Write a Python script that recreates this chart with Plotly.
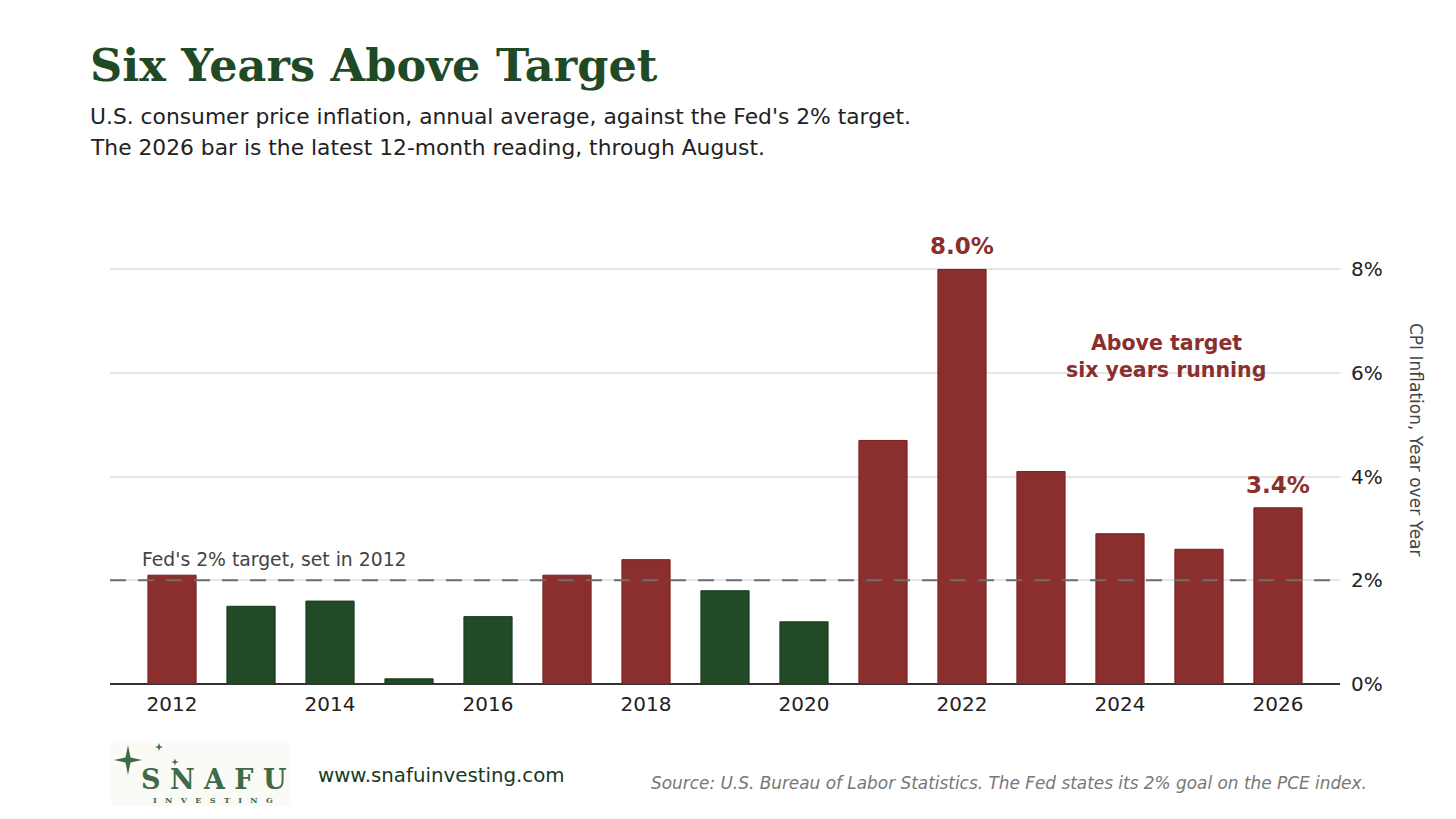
import plotly.graph_objects as go

years = list(range(2012, 2027))
inflation = [2.1, 1.5, 1.6, 0.1, 1.3, 2.1, 2.4, 1.8, 1.2, 4.7, 8.0, 4.1, 2.9, 2.6, 3.4]
target = 2.0
y_ticks = [0, 2, 4, 6, 8]
y_tick_labels = ["0%", "2%", "4%", "6%", "8%"]
x_ticks = [2012, 2014, 2016, 2018, 2020, 2022, 2024, 2026]
labelled_years = [2022, 2026]

RED = "#8b2e2e"
RED_EDGE = "#7a1f1f"
GREEN = "#224a27"
GREEN_EDGE = "#173a1c"
TITLE_GREEN = "#1f4a25"

OFF = 8  # page body margin
W, H = 1440, 803
SL, SR, ST, SB = 110, 1340, 228, 684
L = SL - OFF
T = ST - OFF
R = W - (SR - OFF)
B = H - (SB - OFF)
PW = SR - SL
PH = SB - ST


def px(x):
    return (x - SL) / PW


def py(y):
    return (SB - y) / PH


colors = [RED if v > target else GREEN for v in inflation]
edges = [RED_EDGE if v > target else GREEN_EDGE for v in inflation]

fig = go.Figure()
fig.add_trace(go.Bar(
    x=years, y=inflation, width=0.61,
    marker=dict(color=colors, line=dict(color=edges, width=1)),
    hoverinfo="x+y", showlegend=False,
))

fig.add_shape(type="line", xref="paper", yref="y", x0=0, x1=1, y0=target, y1=target,
              line=dict(color="#6e6e6e", width=2, dash="16px,12px"), layer="above")

annotations = []
for yr in labelled_years:
    v = inflation[years.index(yr)]
    annotations.append(dict(x=yr, y=v, xref="x", yref="y", text=f"<b>{v:.1f}%</b>",
                            showarrow=False, xanchor="center", yanchor="bottom", yshift=8,
                            font=dict(family="DejaVu Sans", size=23, color=RED)))

annotations.append(dict(x=px(140), y=target, xref="paper", yref="y", xanchor="left", yanchor="bottom",
                        yshift=8, text="Fed's 2% target, set in 2012", showarrow=False,
                        font=dict(family="DejaVu Sans", size=18.8, color="#444444")))

annotations.append(dict(x=px(1166), y=py(343), xref="paper", yref="paper", text="<b>Above target</b>",
                        showarrow=False, xanchor="center", yanchor="middle",
                        font=dict(family="DejaVu Sans", size=20.5, color=RED)))
annotations.append(dict(x=px(1166), y=py(370), xref="paper", yref="paper", text="<b>six years running</b>",
                        showarrow=False, xanchor="center", yanchor="middle",
                        font=dict(family="DejaVu Sans", size=20.5, color=RED)))

annotations.append(dict(x=px(1416), y=py(440), xref="paper", yref="paper", text="CPI Inflation, Year over Year",
                        textangle=90, showarrow=False, xanchor="center", yanchor="middle",
                        font=dict(family="DejaVu Sans", size=17, color="#444444")))

annotations.append(dict(x=px(88), y=py(65), xref="paper", yref="paper", xanchor="left", yanchor="middle",
                        text="<b>Six Years Above Target</b>", showarrow=False,
                        font=dict(family="DejaVu Serif", size=44.6, color=TITLE_GREEN)))
annotations.append(dict(x=px(88), y=py(117), xref="paper", yref="paper", xanchor="left", yanchor="middle",
                        text="U.S. consumer price inflation, annual average, against the Fed's 2% target.",
                        showarrow=False, align="left",
                        font=dict(family="DejaVu Sans", size=21.8, color="#222222")))
annotations.append(dict(x=px(88), y=py(147), xref="paper", yref="paper", xanchor="left", yanchor="middle",
                        text="The 2026 bar is the latest 12-month reading, through August.",
                        showarrow=False, align="left",
                        font=dict(family="DejaVu Sans", size=21.8, color="#222222")))

annotations.append(dict(x=px(1369), y=py(783), xref="paper", yref="paper", xanchor="right", yanchor="middle",
                        text="<i>Source: U.S. Bureau of Labor Statistics. The Fed states its 2% goal on the PCE index.</i>",
                        showarrow=False, font=dict(family="DejaVu Sans", size=16.9, color="#777777")))
annotations.append(dict(x=px(316), y=py(775), xref="paper", yref="paper", xanchor="left", yanchor="middle",
                        text="www.snafuinvesting.com", showarrow=False,
                        font=dict(family="DejaVu Sans", size=19.8, color="#173a1c")))

LOGO = "#3e6a46"
annotations.append(dict(x=px(213), y=py(779), xref="paper", yref="paper", xanchor="center", yanchor="middle",
                        text="<b>S N A F U</b>", showarrow=False, height=24,
                        font=dict(family="DejaVu Serif", size=27, color=LOGO)))
annotations.append(dict(x=px(213), y=py(799), xref="paper", yref="paper", xanchor="center", yanchor="middle",
                        text="<b>I   N   V   E   S   T   I   N   G</b>", showarrow=False, height=9,
                        font=dict(family="DejaVu Serif", size=8, color=LOGO)))

shapes = list(fig.layout.shapes)
shapes.append(dict(type="rect", xref="paper", yref="paper", x0=px(111), x1=px(291), y0=py(806), y1=py(743),
                   fillcolor="#fafaf7", line=dict(width=0), layer="below"))


def star(cx, cy, rv, rh, w):
    pts = [(cx, cy - rv), (cx + w, cy - w), (cx + rh, cy), (cx + w, cy + w),
           (cx, cy + rv), (cx - w, cy + w), (cx - rh, cy), (cx - w, cy - w)]
    path = "M " + " L ".join(f"{px(a):.5f},{py(b):.5f}" for a, b in pts) + " Z"
    return dict(type="path", xref="paper", yref="paper", path=path,
                fillcolor=LOGO, line=dict(width=0))


shapes.append(star(128, 760, 15, 14, 2.5))
shapes.append(star(159, 747, 4, 4, 1))
shapes.append(star(175, 762, 3.5, 3.5, 0.9))

fig.update_layout(
    width=W, height=H,
    margin=dict(l=L, r=R, t=T, b=B, autoexpand=False),
    paper_bgcolor="white", plot_bgcolor="white",
    annotations=annotations, shapes=shapes,
    xaxis=dict(range=[2011.215, 2026.785], tickvals=x_ticks, ticktext=[str(t) for t in x_ticks],
               showgrid=False, zeroline=False, showline=False, ticks="",
               ticklabelstandoff=6,
               tickfont=dict(family="DejaVu Sans", size=20, color="#222222"), fixedrange=True),
    yaxis=dict(range=[0, 8.8], side="right", tickvals=y_ticks, ticktext=y_tick_labels,
               showgrid=True, gridcolor="#e6e6e6", gridwidth=1.5,
               zeroline=True, zerolinecolor="#333333", zerolinewidth=1.5,
               showline=False, ticks="", ticklabelstandoff=10,
               tickfont=dict(family="DejaVu Sans", size=20, color="#222222"), fixedrange=True),
    font=dict(family="DejaVu Sans"),
)

fig.write_html("out.html")
